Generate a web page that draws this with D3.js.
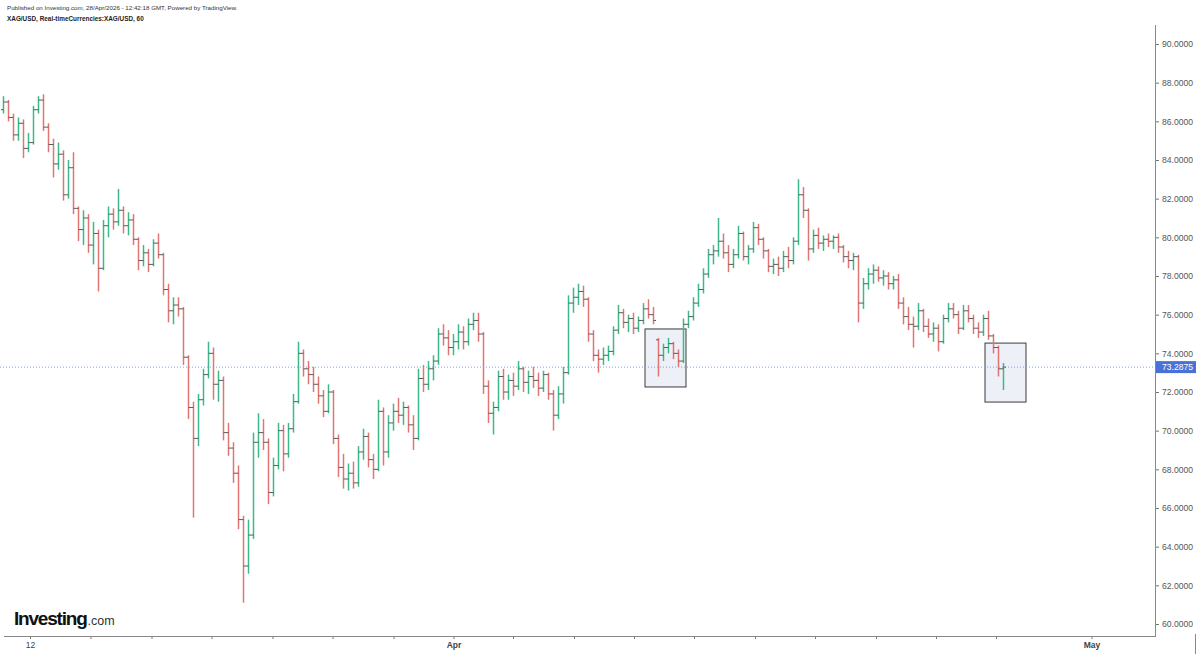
<!DOCTYPE html>
<html><head><meta charset="utf-8">
<script src="https://cdn.jsdelivr.net/npm/d3@7"></script>
<style>html,body{margin:0;padding:0;background:#fff;} svg{display:block;font-family:"Liberation Sans",Arial,sans-serif;}</style>
</head><body><svg id="c" width="1200" height="654"></svg>
<script>
const headerLine1 = "Published on Investing.com, 28/Apr/2026 - 12:42:18 GMT, Powered by TradingView.";
const headerLine2 = "XAG/USD, Real-timeCurrencies:XAG/USD, 60";
// [open, high, low, close]
const ohlc = [
[86.6,87.3,86.4,87.0],[87.0,87.1,86.0,86.2],[86.2,86.4,85.0,85.3],[85.3,86.2,85.0,85.9],[85.9,86.1,84.1,84.6],
[84.6,85.4,84.4,84.9],[84.9,86.8,84.8,86.6],[86.6,87.3,86.4,87.1],[87.1,87.4,85.5,85.7],[85.7,85.9,84.4,84.8],
[84.8,85.1,83.1,83.8],[83.8,84.9,83.5,84.3],[84.3,84.5,81.9,82.2],[82.2,84.0,82.0,83.6],[83.6,84.4,81.2,81.5],
[81.5,81.6,79.8,80.4],[80.4,81.4,79.6,81.0],[81.0,81.2,79.2,79.6],[79.6,80.8,78.6,80.2],[80.2,80.4,77.2,78.4],
[78.4,80.9,78.3,80.6],[80.6,81.6,80.0,81.2],[81.2,81.5,80.4,80.8],[80.8,82.5,80.6,81.4],[81.4,81.6,80.2,80.6],
[80.6,81.3,80.1,80.9],[80.9,81.2,79.6,79.9],[79.9,80.0,78.3,78.8],[78.8,79.6,78.5,79.2],[79.2,79.4,78.2,78.6],
[78.6,79.9,78.5,79.7],[79.7,80.2,78.9,79.1],[79.1,79.2,77.0,77.3],[77.3,77.6,75.6,76.2],[76.2,76.9,75.5,76.5],
[76.5,76.9,75.9,76.3],[76.3,76.4,73.4,73.8],[73.8,73.9,70.6,71.2],[71.2,71.5,65.5,69.6],[69.6,71.9,69.2,71.6],
[71.6,73.2,71.3,72.9],[72.9,74.6,72.7,74.0],[74.0,74.3,71.6,72.4],[72.4,73.1,71.5,72.6],[72.6,72.8,69.5,69.9],
[69.9,70.4,68.7,69.1],[69.1,69.4,67.3,67.8],[67.8,68.2,64.9,65.4],[65.4,65.6,61.1,63.0],[63.0,65.4,62.6,64.6],
[64.6,69.9,64.4,69.4],[69.4,70.9,68.6,69.9],[69.9,70.6,69.0,69.4],[69.4,69.6,66.2,66.8],[66.8,68.6,66.6,68.2],
[68.2,70.4,68.0,70.0],[70.0,70.3,67.9,68.8],[68.8,70.4,68.6,70.1],[70.1,71.9,69.9,71.5],[71.5,74.6,71.4,74.0],
[74.0,74.2,72.8,73.2],[73.2,73.6,72.4,72.9],[72.9,73.3,72.0,72.4],[72.4,72.8,71.4,71.8],[71.8,72.1,70.7,71.0],
[71.0,72.4,70.9,72.0],[72.0,72.1,69.3,69.6],[69.6,69.8,67.6,68.1],[68.1,68.8,67.0,67.5],[67.5,68.3,66.9,67.8],
[67.8,68.4,67.0,67.3],[67.3,69.2,67.1,68.9],[68.9,70.1,68.5,69.7],[69.7,69.9,68.1,68.5],[68.5,68.8,67.5,68.0],
[68.0,71.6,67.9,71.0],[71.0,71.2,68.2,68.9],[68.9,70.8,68.6,70.4],[70.4,71.4,70.0,71.0],[71.0,71.7,70.4,70.8],
[70.8,71.5,70.3,71.2],[71.2,71.3,69.9,70.3],[70.3,70.8,69.0,69.6],[69.6,73.2,69.5,72.7],[72.7,73.4,72.0,72.4],
[72.4,73.6,72.1,73.2],[73.2,73.9,72.6,73.6],[73.6,75.3,73.4,75.0],[75.0,75.5,74.4,74.8],[74.8,75.2,73.9,74.3],
[74.3,75.0,73.9,74.6],[74.6,75.5,74.2,75.1],[75.1,75.4,74.2,74.6],[74.6,75.8,74.4,75.5],[75.5,76.1,75.2,75.7],
[75.7,76.1,74.6,75.0],[75.0,75.1,71.9,72.3],[72.3,72.6,70.4,70.9],[70.9,71.5,69.8,71.2],[71.2,73.1,71.0,72.8],
[72.8,73.2,71.6,72.0],[72.0,72.9,71.6,72.6],[72.6,73.0,71.8,72.3],[72.3,73.6,72.1,73.2],[73.2,73.3,72.0,72.5],
[72.5,73.1,71.9,72.8],[72.8,73.3,72.2,72.6],[72.6,73.0,71.8,72.2],[72.2,73.1,72.0,72.9],[72.9,73.0,71.6,71.9],
[71.9,72.1,70.0,70.8],[70.8,72.3,70.6,71.9],[71.9,73.3,71.4,73.0],[73.0,77.0,72.9,76.6],[76.6,77.4,76.1,76.9],
[76.9,77.6,76.5,77.2],[77.2,77.5,76.4,76.8],[76.8,76.9,74.6,75.0],[75.0,75.2,73.6,73.9],[73.9,74.2,73.0,73.7],
[73.7,74.3,73.4,73.9],[73.9,74.4,73.6,74.1],[74.1,75.4,73.9,75.2],[75.2,76.5,75.0,76.1],[76.1,76.3,75.3,75.6],
[75.6,76.0,75.1,75.8],[75.8,76.1,75.0,75.3],[75.3,75.9,75.1,75.7],[75.7,76.6,75.5,76.3],[76.3,76.8,75.8,76.0],
[76.0,76.4,75.5,75.7],[74.7,74.8,72.8,73.9],[73.9,74.5,73.6,74.3],[74.3,74.8,74.0,74.5],[74.5,74.6,73.7,74.0],
[74.0,74.2,73.3,73.6],[73.6,75.8,73.5,75.5],[75.5,76.2,75.3,75.9],[75.9,76.9,75.7,76.6],[76.6,77.6,76.4,77.3],
[77.3,78.4,77.1,78.1],[78.1,79.4,77.9,79.1],[79.1,79.6,78.6,79.3],[79.3,81.0,79.0,79.8],[79.8,80.2,78.9,79.2],
[79.2,79.6,78.2,78.6],[78.6,79.4,78.4,79.1],[79.1,80.6,78.9,80.2],[80.2,80.3,78.8,79.0],[79.0,79.6,78.6,79.4],
[79.4,80.8,79.2,80.5],[80.5,80.7,79.6,79.9],[79.9,80.0,78.9,79.3],[79.3,79.4,78.2,78.5],[78.5,78.9,78.1,78.6],
[78.6,79.0,78.0,78.4],[78.4,79.3,78.2,79.0],[79.0,79.5,78.4,78.8],[78.8,80.0,78.6,79.8],[79.8,83.0,79.6,82.2],
[82.2,82.6,81.0,81.4],[81.4,81.5,78.8,79.4],[79.4,80.4,79.2,80.1],[80.1,80.5,79.4,79.7],[79.7,80.1,79.3,79.9],
[79.9,80.2,79.5,79.8],[79.8,80.1,79.4,80.0],[80.0,80.2,79.2,79.5],[79.5,79.6,78.7,79.0],[79.0,79.3,78.4,78.8],
[78.8,79.2,78.3,79.0],[79.0,79.1,75.6,76.6],[76.6,77.9,76.3,77.6],[77.6,78.4,77.3,78.1],[78.1,78.6,77.6,78.3],
[78.3,78.5,77.7,77.9],[77.9,78.3,77.5,78.0],[78.0,78.2,77.3,77.6],[77.6,78.0,77.3,77.8],[77.8,78.1,76.3,76.6],
[76.6,76.9,75.5,75.9],[75.9,76.4,75.2,75.5],[75.5,75.9,74.3,75.4],[75.4,76.6,75.2,76.2],[76.2,76.3,75.1,75.4],
[75.4,75.8,74.8,75.0],[75.0,75.6,74.6,75.3],[75.3,75.5,74.1,74.6],[74.6,76.0,74.5,75.8],[75.8,76.6,75.6,76.3],
[76.3,76.6,75.8,76.0],[76.0,76.2,75.0,75.3],[75.3,76.5,75.2,76.2],[76.2,76.5,75.6,75.8],[75.8,76.0,75.0,75.3],
[75.3,75.6,74.8,75.1],[75.1,76.0,74.9,75.8],[75.8,76.2,74.7,74.9],[74.9,75.0,74.0,74.3],[74.3,74.4,72.8,73.2],
[73.2,73.5,72.1,73.2875]
];
const lastPrice = 73.2875;
const yTicks = [60,62,64,66,68,70,72,74,76,78,80,82,84,86,88,90];
const xTickIdx = [5.4,17.5,29.7,41.7,53.9,65.9,78.1,90.1,102,114.2,126.2,138.2,150.4,162.4,174.6,186.6,198.6,217.7];
const xTickLabels = ["12","","","","","","","Apr","","","","","","","","","","May"];
const boxStart = [128.4,196.4];
const boxEnd = [136.6,204.6];
const boxHigh = [75.26,74.53];
const boxLow = [72.26,71.48];

const svg = d3.select("#c");
const x = d3.scaleLinear().domain([0,200]).range([3,1003]);
const y = d3.scaleLinear().domain([60,90]).range([624,44]);
const axisX = 1155, axisY = 636;
const GREEN = "#3db88a", RED = "#e27474";

// header
svg.append("text").attr("x",7).attr("y",10).attr("font-size",6.2).attr("fill","#333").text(headerLine1);
svg.append("text").attr("x",7).attr("y",21).attr("font-size",6.4).attr("font-weight","bold").attr("fill","#222").text(headerLine2);

// boxes
const bx = svg.append("g");
boxStart.forEach((s,i)=>{
  bx.append("rect").attr("x",x(s)).attr("y",y(boxHigh[i]))
    .attr("width",x(boxEnd[i])-x(s)).attr("height",y(boxLow[i])-y(boxHigh[i]))
    .attr("fill","#eef0f8").attr("stroke","#3a3a3a").attr("stroke-width",1);
});

// last price line
svg.append("line").attr("x1",0).attr("x2",axisX).attr("y1",y(lastPrice)).attr("y2",y(lastPrice))
  .attr("stroke","#7f9ee0").attr("stroke-width",1).attr("stroke-dasharray","1,2");

// bars
const g = svg.append("g");
ohlc.forEach((d,i)=>{
  const [o,h,l,c] = d;
  const col = c>=o ? GREEN : RED;
  const cx = Math.round(x(i))+0.5;
  g.append("line").attr("x1",cx).attr("x2",cx).attr("y1",y(h)).attr("y2",y(l)).attr("stroke",col).attr("stroke-width",1.5);
  g.append("line").attr("x1",cx-2.5).attr("x2",cx).attr("y1",y(o)).attr("y2",y(o)).attr("stroke","#5a5a5a").attr("stroke-width",1);
  g.append("line").attr("x1",cx).attr("x2",cx+2.5).attr("y1",y(c)).attr("y2",y(c)).attr("stroke","#5a5a5a").attr("stroke-width",1);
});

// y axis
const ya = svg.append("g").attr("transform",`translate(${axisX},0)`)
  .call(d3.axisRight(y).tickValues(yTicks).tickFormat(d=>d.toFixed(4)).tickSize(4).tickSizeOuter(0));
ya.select(".domain").remove();
ya.selectAll(".tick line").attr("stroke","#777");
ya.selectAll(".tick text").attr("font-size",8.6).attr("fill","#555").attr("x",7).attr("font-family","Liberation Sans, Arial, sans-serif");
svg.append("line").attr("x1",axisX+0.5).attr("x2",axisX+0.5).attr("y1",25).attr("y2",axisY+1).attr("stroke","#888");
svg.append("line").attr("x1",1195.5).attr("x2",1195.5).attr("y1",axisY-2).attr("y2",654).attr("stroke","#888");

// x axis
const xa = svg.append("g").attr("transform",`translate(0,${axisY})`)
  .call(d3.axisBottom(x).tickValues(xTickIdx).tickFormat((d,i)=>xTickLabels[i]).tickSize(3).tickSizeOuter(0));
xa.select(".domain").remove();
xa.selectAll(".tick line").attr("stroke","#777");
xa.selectAll(".tick text").attr("font-size",8.5).attr("fill","#444").attr("y",6).attr("font-family","Liberation Sans, Arial, sans-serif")
  .attr("font-weight",(d,i)=> xTickLabels[i]==="12" ? "normal" : "bold");
svg.append("line").attr("x1",4).attr("x2",axisX).attr("y1",axisY+0.5).attr("y2",axisY+0.5).attr("stroke","#888");

// price label
const py = y(lastPrice);
svg.append("rect").attr("x",axisX+1).attr("y",py-6).attr("width",40).attr("height",12).attr("fill","#4a72d6");
svg.append("text").attr("x",axisX+7).attr("y",py+3).attr("font-size",8.6).attr("fill","#fff").text(lastPrice.toFixed(4));

// logo (single text element)
const logo = svg.append("text").attr("x",14).attr("y",625);
logo.append("tspan").attr("font-size",19).attr("font-weight","bold").attr("fill","#111").attr("letter-spacing",-1.2).text("Investing");
logo.append("tspan").attr("font-size",12.5).attr("fill","#333").attr("dx",1).text(".com");
</script></body></html>
